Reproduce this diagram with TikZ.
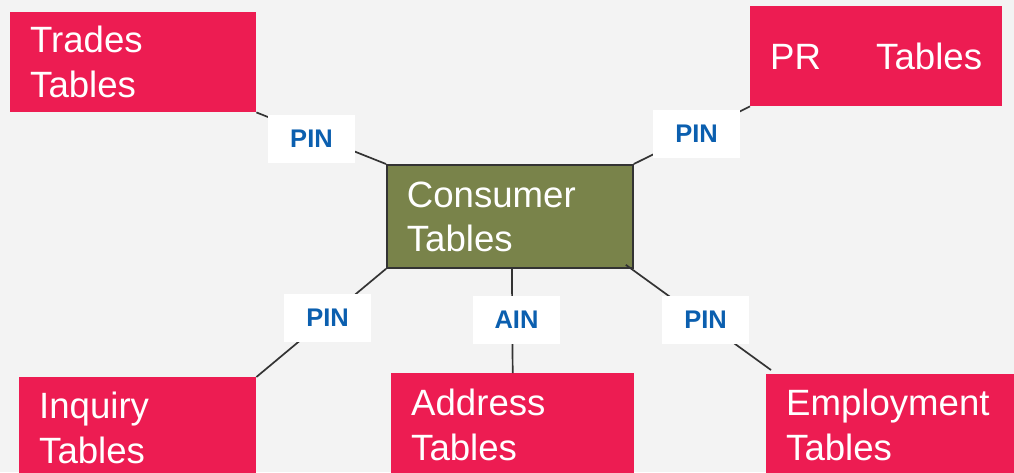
\documentclass[tikz,border=0pt]{standalone}
\usepackage{fontspec}
\setmainfont{Liberation Sans}
\definecolor{bg}{HTML}{F3F3F3}
\definecolor{tred}{HTML}{ED1C52}
\definecolor{olive}{HTML}{79834A}
\definecolor{pinblue}{HTML}{0B5FAF}
\definecolor{edge}{HTML}{333333}
\begin{document}
\begin{tikzpicture}[x=1pt,y=-1pt,
  tbox/.style={fill=tred, draw=none, anchor=north west, inner xsep=20pt, inner ysep=0pt,
    align=left, text=white, font=\fontsize{36.6}{45}\selectfont},
  cbox/.style={fill=olive, draw=edge, line width=1.8pt, anchor=north west, inner xsep=20pt, inner ysep=0pt,
    align=left, text=white, font=\fontsize{36.6}{44}\selectfont},
  lbl/.style={fill=white, draw=none, minimum width=87pt, minimum height=48pt, inner sep=0pt,
    text=pinblue, font=\fontsize{25.5}{30}\selectfont\bfseries},
  conn/.style={draw=edge, line width=1.7pt}]
\useasboundingbox (0,0) rectangle (1014,472);
\clip (0,0) rectangle (1014,472);
\fill[bg] (0,0) rectangle (1014,472);
% table boxes
\node[tbox, text width=206pt, minimum height=100pt] (trades) at (10,12) {Trades\\Tables};
\node[tbox, text width=212pt, minimum height=100pt] (pr) at (750,6) {PR\hspace{43pt} Tables};
\node[cbox, text width=206pt, minimum height=103pt] (cons) at (386,164) {Consumer\\Tables};
\node[tbox, text width=197pt, minimum height=101pt] (inq) at (19,377) {Inquiry\\Tables};
\node[tbox, text width=203pt, minimum height=103pt] (addr) at (391,373) {Address\\Tables};
\node[tbox, text width=208pt, minimum height=101pt] (emp) at (766,374) {Employment\\Tables};
% connectors
\draw[conn] (trades.south east) -- (cons.north west);
\draw[conn] (pr.south west) -- (cons.north east);
\draw[conn] (inq.north east) -- (cons.south west);
\draw[conn] ([xshift=2pt]cons.south) -- (addr.north);
\draw[conn] ([shift={(-8,-4)}]cons.south east) -- ([shift={(5,-4)}]emp.north west);
% labels
\node[lbl] (l1) at (311.5,139) {PIN};
\node[lbl] (l2) at (696.5,134) {PIN};
\node[lbl] (l3) at (327.5,318) {PIN};
\node[lbl] (l4) at (516.5,320) {AIN};
\node[lbl] (l5) at (705.5,320) {PIN};
\end{tikzpicture}
\end{document}
